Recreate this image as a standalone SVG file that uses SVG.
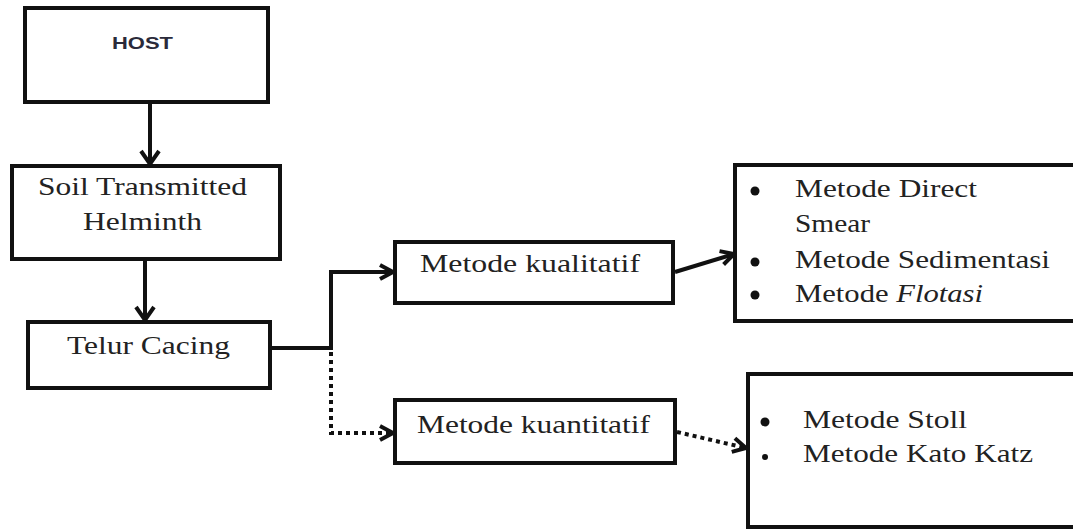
<svg xmlns="http://www.w3.org/2000/svg" width="1073" height="529" viewBox="0 0 1073 529">
<style>
.box{fill:#fff;stroke:#111;stroke-width:4}
.t{font-family:"Liberation Serif","Times New Roman",serif;font-size:25px;fill:#222}
.h{font-family:"Liberation Sans",Arial,sans-serif;font-size:17px;font-weight:bold;fill:#2a2a3a}
.c{fill:none;stroke:#111;stroke-width:4}
.d{fill:none;stroke:#111;stroke-width:4;stroke-dasharray:4 4}
.b{fill:#111}
</style>
<defs>
<marker id="ah" markerUnits="userSpaceOnUse" markerWidth="20" markerHeight="24" refX="15" refY="12" orient="auto">
<path d="M2,3 L15,12 L2,21" fill="none" stroke="#111" stroke-width="4"/>
</marker>
<marker id="ahs" markerUnits="userSpaceOnUse" markerWidth="20" markerHeight="20" refX="15" refY="10" orient="auto">
<path d="M2,3 L15,10 L2,17" fill="none" stroke="#111" stroke-width="4"/>
</marker>
</defs>
<rect width="1073" height="529" fill="#fff"/>
<g id="connectors">
<line class="c" x1="150" y1="102" x2="150" y2="164" marker-end="url(#ah)"/>
<line class="c" x1="145" y1="259" x2="145" y2="320" marker-end="url(#ah)"/>
<path class="c" d="M270,348 H331 V272 H393" marker-end="url(#ahs)"/>
<path class="d" d="M331,352 V433 H393" marker-end="url(#ahs)"/>
<line class="c" x1="675" y1="272" x2="734" y2="254" stroke-width="3" marker-end="url(#ahs)"/>
<line class="d" x1="677" y1="432" x2="746" y2="448" marker-end="url(#ahs)"/>
</g>
<g id="host">
<rect class="box" x="25" y="8" width="243" height="94"/>
<text class="h" x="112" y="49" textLength="61" lengthAdjust="spacingAndGlyphs">HOST</text>
</g>
<g id="sth">
<rect class="box" x="12" y="166" width="268" height="93"/>
<text class="t" x="38" y="195" textLength="209" lengthAdjust="spacingAndGlyphs">Soil Transmitted</text>
<text class="t" x="83" y="230" textLength="119" lengthAdjust="spacingAndGlyphs">Helminth</text>
</g>
<g id="telur">
<rect class="box" x="28" y="322" width="242" height="66"/>
<text class="t" x="67" y="354" textLength="163" lengthAdjust="spacingAndGlyphs">Telur Cacing</text>
</g>
<g id="kualitatif">
<rect class="box" x="395" y="242" width="278" height="61"/>
<text class="t" x="420" y="272" textLength="220" lengthAdjust="spacingAndGlyphs">Metode kualitatif</text>
</g>
<g id="kuantitatif">
<rect class="box" x="395" y="400" width="280" height="63"/>
<text class="t" x="417" y="433" textLength="233" lengthAdjust="spacingAndGlyphs">Metode kuantitatif</text>
</g>
<g id="kual-list">
<rect class="box" x="735" y="165" width="400" height="156"/>
<circle class="b" cx="755" cy="191" r="4.5"/>
<circle class="b" cx="755" cy="262" r="4.5"/>
<circle class="b" cx="755" cy="295" r="4.5"/>
<text class="t" x="795" y="197" textLength="182" lengthAdjust="spacingAndGlyphs">Metode Direct</text>
<text class="t" x="795" y="232" textLength="75" lengthAdjust="spacingAndGlyphs">Smear</text>
<text class="t" x="795" y="268" textLength="255" lengthAdjust="spacingAndGlyphs">Metode Sedimentasi</text>
<text class="t" x="795" y="302" textLength="188" lengthAdjust="spacingAndGlyphs">Metode <tspan font-style="italic">Flotasi</tspan></text>
</g>
<g id="kuan-list">
<rect class="box" x="748" y="374" width="400" height="153"/>
<circle class="b" cx="765" cy="422" r="4.5"/>
<circle class="b" cx="765" cy="457" r="3"/>
<text class="t" x="803" y="428" textLength="164" lengthAdjust="spacingAndGlyphs">Metode Stoll</text>
<text class="t" x="803" y="462" textLength="230" lengthAdjust="spacingAndGlyphs">Metode Kato Katz</text>
</g>
</svg>
